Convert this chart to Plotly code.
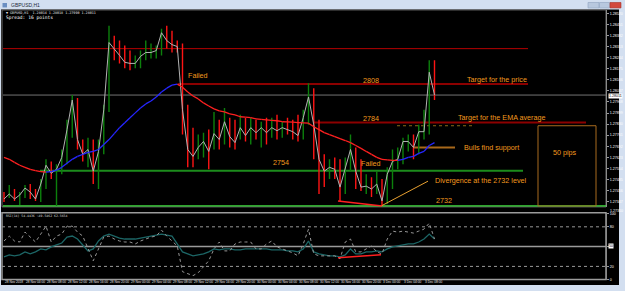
import plotly.graph_objects as go

W, H = 625, 291

# ---------------- data ----------------
time_labels = ["28 Nov 2018", "28 Nov 04:00", "28 Nov 08:00", "28 Nov 12:00", "28 Nov 16:00",
               "28 Nov 20:00", "29 Nov 00:00", "29 Nov 04:00", "29 Nov 08:00", "29 Nov 12:00",
               "29 Nov 16:00", "29 Nov 20:00", "30 Nov 00:00", "30 Nov 04:00", "30 Nov 08:00",
               "30 Nov 12:00", "30 Nov 16:00", "30 Nov 20:00", "3 Dec 00:00", "3 Dec 04:00",
               "3 Dec 08:00"]
time_label_bars = [0, 4, 8, 12, 16, 20, 24, 28, 32, 36, 40, 44, 48, 52, 56, 60, 64, 68, 72, 76, 80]

close = [1.27364, 1.27395, 1.27364, 1.27389, 1.27432, 1.27407, 1.27364, 1.27457, 1.27574, 1.27524,
         1.27549, 1.27623, 1.27796, 1.27980, 1.27734, 1.27642, 1.27672, 1.27537, 1.27660, 1.27919,
         1.28338, 1.28301, 1.28258, 1.28215, 1.28208, 1.28208, 1.28252, 1.28276, 1.28276, 1.28288,
         1.28399, 1.28350, 1.28325, 1.28313, 1.27919, 1.27672, 1.27629, 1.27685, 1.27722, 1.27660,
         1.27771, 1.27734, 1.27845, 1.27752, 1.27715, 1.27808, 1.27759, 1.27808, 1.27777, 1.27808,
         1.27777, 1.27808, 1.27789, 1.27808, 1.27796, 1.27783, 1.27759, 1.27870, 1.27999, 1.27826,
         1.27611, 1.27537, 1.27561, 1.27549, 1.27438, 1.27549, 1.27672, 1.27537, 1.27438, 1.27444,
         1.27426, 1.27457, 1.27352, 1.27518, 1.27598, 1.27611, 1.27722, 1.27722, 1.27685, 1.27783,
         1.27783, 1.28153, 1.28011]
high = [1.27407, 1.27451, 1.27426, 1.27407, 1.27451, 1.27457, 1.27426, 1.27488, 1.27611, 1.27598,
        1.27580, 1.27672, 1.27857, 1.28011, 1.27993, 1.27734, 1.27746, 1.27734, 1.27734, 1.27950,
        1.28443, 1.28381, 1.28350, 1.28319, 1.28288, 1.28258, 1.28288, 1.28350, 1.28332, 1.28319,
        1.28424, 1.28443, 1.28412, 1.28350, 1.28332, 1.27950, 1.27808, 1.27765, 1.27777, 1.27796,
        1.27906, 1.27857, 1.27931, 1.27870, 1.27857, 1.27888, 1.27870, 1.27870, 1.27857, 1.27845,
        1.27870, 1.27870, 1.27888, 1.27845, 1.27870, 1.27857, 1.27888, 1.27919, 1.28085, 1.28054,
        1.27857, 1.27642, 1.27611, 1.27623, 1.27611, 1.27623, 1.27765, 1.27685, 1.27611, 1.27518,
        1.27500, 1.27537, 1.27488, 1.27561, 1.27672, 1.27685, 1.27746, 1.27765, 1.27765, 1.27826,
        1.27919, 1.28227, 1.28227]
low = [1.27346, 1.27370, 1.27352, 1.27327, 1.27370, 1.27364, 1.27352, 1.27346, 1.27426, 1.27488,
       1.27321, 1.27518, 1.27580, 1.27746, 1.27672, 1.27598, 1.27561, 1.27457, 1.27426, 1.27642,
       1.27906, 1.28227, 1.28208, 1.28178, 1.28165, 1.28178, 1.28178, 1.28227, 1.28239, 1.28239,
       1.28258, 1.28301, 1.28276, 1.28276, 1.27765, 1.27561, 1.27561, 1.27611, 1.27623, 1.27549,
       1.27672, 1.27672, 1.27703, 1.27685, 1.27672, 1.27734, 1.27722, 1.27703, 1.27734, 1.27685,
       1.27703, 1.27746, 1.27734, 1.27746, 1.27765, 1.27734, 1.27722, 1.27734, 1.27826, 1.27611,
       1.27395, 1.27438, 1.27488, 1.27488, 1.27352, 1.27395, 1.27537, 1.27426, 1.27414, 1.27395,
       1.27377, 1.27395, 1.27321, 1.27333, 1.27426, 1.27549, 1.27580, 1.27660, 1.27611, 1.27642,
       1.27734, 1.27765, 1.27980]
ema = [1.27623, 1.27611, 1.27592, 1.27574, 1.27561, 1.27549, 1.27540, 1.27534, 1.27531, 1.27534,
       1.27543, 1.27561, 1.27586, 1.27611, 1.27629, 1.27642, 1.27654, 1.27660, 1.27672, 1.27703,
       1.27734, 1.27771, 1.27808, 1.27839, 1.27870, 1.27900, 1.27931, 1.27956, 1.27974, 1.27999,
       1.28030, 1.28054, 1.28073, 1.28079, 1.28060, 1.28030, 1.28005, 1.27987, 1.27962, 1.27943,
       1.27925, 1.27913, 1.27906, 1.27894, 1.27888, 1.27876, 1.27873, 1.27870, 1.27863, 1.27860,
       1.27857, 1.27854, 1.27851, 1.27845, 1.27844, 1.27842, 1.27839, 1.27838, 1.27836, 1.27814,
       1.27796, 1.27777, 1.27765, 1.27752, 1.27740, 1.27728, 1.27715, 1.27697, 1.27679, 1.27660,
       1.27642, 1.27623, 1.27611, 1.27608, 1.27605, 1.27604, 1.27611, 1.27623, 1.27629, 1.27648,
       1.27660, 1.27697, 1.27715]
osc_slow = [34.5, 37.5, 36, 37.5, 42, 39, 42, 46.5, 45, 49.5, 52.5, 55.5, 64.5, 66, 61.5, 52.5, 43.5,
            46.5, 58.5, 66, 69, 66, 63, 61.5, 61.5, 61.5, 63, 64.5, 66, 67.5, 69, 67.5, 66, 54, 42, 39,
            36, 37.5, 39, 42, 46.5, 45, 46.5, 46.5, 45, 45, 46.5, 46.5, 46.5, 46.5, 46.5, 45, 45, 45,
            43.5, 43.5, 42, 46.5, 58.5, 42, 39, 37.5, 36, 36, 34.5, 37.5, 46.5, 39, 39, 42, 42, 43.5,
            42, 46.5, 49.5, 51, 52.5, 54, 54, 57, 61.5, 69, 61.5]
osc_fast = [58.5, 66, 58.5, 57, 72, 64.5, 57, 69, 81, 57, 66, 69, 81, 81, 72, 66, 46.5, 28.5, 46.5,
            64.5, 66, 61.5, 58.5, 57, 57, 54, 58.5, 61.5, 64.5, 66, 75, 66, 58.5, 51, 12, 9, 6, 10.5,
            19.5, 28.5, 46.5, 57, 43.5, 43.5, 54, 57, 57, 57, 46.5, 46.5, 54, 58.5, 49.5, 46.5, 43.5,
            40.5, 36, 54, 76.5, 39, 36, 36, 36, 36, 31.5, 57, 61.5, 42, 42, 46.5, 51, 42, 39, 61.5,
            73.5, 72, 73.5, 72, 70.5, 73.5, 76.5, 85.5, 61.5]

price_tick_vals = [1.28520, 1.28451, 1.28382, 1.28313, 1.28244, 1.28175, 1.28106, 1.28037, 1.27968,
                   1.27899, 1.27830, 1.27761, 1.27692, 1.27623, 1.27554, 1.27485, 1.27416, 1.27347]
price_tick_text = ["%.5f" % v for v in price_tick_vals]
osc_tick_vals = [0, 20, 50, 80, 100]
osc_tick_text = ["0", "20", "", "80", "100"]

bid_price = 1.28011
level_top = 1.2830
level_2808 = 1.2808
level_2784 = 1.2784
level_2754 = 1.2754
level_2732 = 1.2732
support_level = 1.27685
box_top = 1.2782
div_price_start = 1.27352
div_osc = [33, 37.5]
pointer_end = 1.27475

# ---------------- geometry helpers ----------------
BAR0_PX, BAR_PX = 4.0, 5.25
PL, PR = 3, 606
MAIN_T, MAIN_B = 9, 208
OSC_T, OSC_B = 214, 282


def bx(px):
    return (px - BAR0_PX) / BAR_PX


def fx(px):
    return px / W


def fy(py):
    return 1 - py / H


n = len(close)
idx = list(range(n))

up_x, up_y, dn_x, dn_y = [], [], [], []
for i in idx:
    prev = close[i - 1] if i > 0 else close[i] + 1
    if close[i] >= prev:
        up_x += [i, i, None]; up_y += [low[i], high[i], None]
    else:
        dn_x += [i, i, None]; dn_y += [low[i], high[i], None]

er_x, er_y, eb_x, eb_y = [], [], [], []
falling = True
for i in range(1, n):
    if ema[i] < ema[i - 1]:
        falling = True
    elif ema[i] > ema[i - 1]:
        falling = False
    if falling:
        er_x += [i - 1, i, None]; er_y += [ema[i - 1], ema[i], None]
    else:
        eb_x += [i - 1, i, None]; eb_y += [ema[i - 1], ema[i], None]

fig = go.Figure()
fig.add_trace(go.Scatter(x=up_x, y=up_y, mode="lines", line=dict(color="#0c800c", width=1.4), hoverinfo="skip"))
fig.add_trace(go.Scatter(x=dn_x, y=dn_y, mode="lines", line=dict(color="#ff1414", width=1.4), hoverinfo="skip"))
fig.add_trace(go.Scatter(x=idx, y=close, mode="lines", line=dict(color="#b2b2b2", width=1)))
fig.add_trace(go.Scatter(x=er_x, y=er_y, mode="lines", line=dict(color="#ff2020", width=1.3)))
fig.add_trace(go.Scatter(x=eb_x, y=eb_y, mode="lines", line=dict(color="#2626ff", width=1.3)))
fig.add_trace(go.Scatter(x=idx, y=osc_slow, yaxis="y2", mode="lines", line=dict(color="#1c6666", width=1.3)))
fig.add_trace(go.Scatter(x=idx, y=osc_fast, yaxis="y2", mode="lines",
                         line=dict(color="#969696", width=1, dash="dot")))

shapes = []
# window black area
shapes.append(dict(type="rect", xref="paper", yref="paper", x0=fx(1), x1=fx(619), y0=fy(287), y1=fy(8.5),
                   fillcolor="#000000", line=dict(width=0), layer="below"))
# panel borders
shapes.append(dict(type="rect", xref="paper", yref="paper", x0=fx(2), x1=fx(PR), y0=fy(MAIN_B), y1=fy(MAIN_T),
                   line=dict(color="#6e6e6e", width=1), layer="below"))
shapes.append(dict(type="rect", xref="paper", yref="paper", x0=fx(2), x1=fx(PR), y0=fy(OSC_B - 0.5), y1=fy(OSC_T),
                   line=dict(color="#9c9c9c", width=1.5), layer="below"))


def hline(price, px0, px1, color, width, dash="solid", yref="y"):
    shapes.append(dict(type="line", xref="x", yref=yref, x0=bx(px0), x1=bx(px1), y0=price, y1=price,
                       line=dict(color=color, width=width, dash=dash), layer="below"))


hline(level_top, PL, 528, "#b40000", 1)
hline(bid_price, PL, PR, "#737373", 1)
hline(level_2808, 178, 528, "#8c0000", 2)
hline(level_2784, 313, 586, "#8c0000", 2)
hline(box_top, 397, 475, "#8a6a1a", 1, "dot")
hline(support_level, 413, 455, "#a8681a", 2)
hline(level_2754, 40, 523, "#1c8c1c", 2)
hline(level_2732, PL, PR, "#3fdc3f", 1.5)
shapes.append(dict(type="rect", xref="x", yref="y", x0=bx(538), x1=bx(596), y0=level_2732, y1=box_top,
                   line=dict(color="#a86a1e", width=1), layer="below"))
shapes.append(dict(type="line", xref="x", yref="y", x0=bx(381), x1=bx(428), y0=level_2732, y1=pointer_end,
                   line=dict(color="#e8a030", width=1)))
shapes.append(dict(type="line", xref="x", yref="y", x0=bx(338), x1=bx(382), y0=div_price_start, y1=level_2732,
                   line=dict(color="#ff2020", width=1.5)))
# oscillator levels
for lv, dsh, wd in [(80, "dot", 1), (50, "solid", 1.5), (20, "dot", 1)]:
    shapes.append(dict(type="line", xref="paper", yref="y2", x0=fx(2), x1=fx(PR), y0=lv, y1=lv,
                       line=dict(color="#9a9a9a", width=wd, dash=dsh), layer="below"))
shapes.append(dict(type="line", xref="x", yref="y2", x0=bx(338), x1=bx(381), y0=div_osc[0], y1=div_osc[1],
                   line=dict(color="#ff2020", width=1.5)))
# window buttons
shapes.append(dict(type="rect", xref="paper", yref="paper", x0=fx(588), x1=fx(599), y0=fy(7), y1=fy(1.5),
                   fillcolor="#b8c8de", line=dict(color="#8fa3c0", width=0.6)))
shapes.append(dict(type="rect", xref="paper", yref="paper", x0=fx(599.5), x1=fx(609.5), y0=fy(7), y1=fy(1.5),
                   fillcolor="#b8c8de", line=dict(color="#8fa3c0", width=0.6)))
shapes.append(dict(type="rect", xref="paper", yref="paper", x0=fx(610), x1=fx(621), y0=fy(7), y1=fy(1.5),
                   fillcolor="#d2493e", line=dict(color="#a8322a", width=0.6)))
shapes.append(dict(type="rect", xref="paper", yref="paper", x0=fx(2.5), x1=fx(7), y0=fy(6.5), y1=fy(2),
                   fillcolor="#6b8fc2", line=dict(width=0)))

ORANGE = "#f39a1e"
FONT = "Liberation Sans, Arial, sans-serif"
ann = []


def txt(s, cx, cy, size=7.2, color=ORANGE, xanchor="center", family=FONT, **kw):
    ann.append(dict(text=s, xref="paper", yref="paper", x=fx(cx), y=fy(cy), xanchor=xanchor, yanchor="middle",
                    showarrow=False, font=dict(size=size, color=color, family=family), **kw))


txt("Failed", 197.5, 75)
txt("2808", 371, 80)
txt("Target for the price", 496.5, 79.5)
txt("2784", 371, 118.5)
txt("Target for the EMA average", 501.5, 118)
txt("Bulls find support", 491, 148.5)
txt("50 pips", 564.5, 153)
txt("2754", 281, 163)
txt("Failed", 370.5, 164)
txt("Divergence at the 2732 level", 481, 181)
txt("2732", 444, 202)

MONO = "DejaVu Sans Mono, monospace"
txt("GBPUSD,H1", 9, 4.5, size=5, color="#1e2a3a", xanchor="left")
txt("\u25bc GBPUSD,H1  1.28014 1.28018 1.27990 1.28011", 3.5, 12, size=3.4, color="#e8e8e8",
    xanchor="left", family=MONO)
txt("Spread: 16 points", 3.5, 16.5, size=4.6, color="#ffffff", xanchor="left", family=MONO)
txt("RSI(14) 54.4436 ~49.5462 62.5654", 3.5, 217.5, size=3.2, color="#dcdcdc", xanchor="left", family=MONO)
txt("1.28011", 607.5, 95.5, size=3.6, color="#000000", xanchor="left", bgcolor="#ffffff", borderpad=0)
txt("50", 607.5, 248, size=3.6, color="#000000", xanchor="left", bgcolor="#ffffff", borderpad=0)
txt("1.27310", 607.5, 212.5, size=3.6, color="#ffffff", xanchor="left")
for b, s in zip(time_label_bars, time_labels):
    ann.append(dict(text=s, xref="x", yref="paper", x=b, y=fy(284.3), xanchor="left", yanchor="middle",
                    xshift=-1.5, showarrow=False, font=dict(size=3.2, color="#e6e6e6", family=FONT)))

fig.update_layout(
    width=W, height=H, margin=dict(l=0, r=0, t=0, b=0),
    paper_bgcolor="#d3dff0", plot_bgcolor="rgba(0,0,0,0)",
    showlegend=False, shapes=shapes, annotations=ann,
    xaxis=dict(domain=[fx(PL), fx(PR)], range=[bx(PL), bx(PR)], showticklabels=False, showgrid=False,
               zeroline=False, showline=False, ticks=""),
    yaxis=dict(domain=[fy(MAIN_B), fy(MAIN_T)], range=[1.27315, 1.27315 + (MAIN_B - MAIN_T) / 16230.0],
               side="right", anchor="x", tickvals=price_tick_vals, ticktext=price_tick_text,
               tickfont=dict(size=3.6, color="#ffffff", family=FONT), ticks="outside", ticklen=2,
               tickcolor="#9a9a9a", showgrid=False, zeroline=False, showline=True, linecolor="#8a8a8a"),
    yaxis2=dict(domain=[fy(OSC_B), fy(OSC_T)], range=[-0.75, 101.25], side="right", anchor="x",
                tickvals=osc_tick_vals, ticktext=osc_tick_text,
                tickfont=dict(size=3.6, color="#ffffff", family=FONT), ticks="outside", ticklen=2,
                tickcolor="#9a9a9a", showgrid=False, zeroline=False, showline=True, linecolor="#8a8a8a"),
)

fig.write_html("out.html")
